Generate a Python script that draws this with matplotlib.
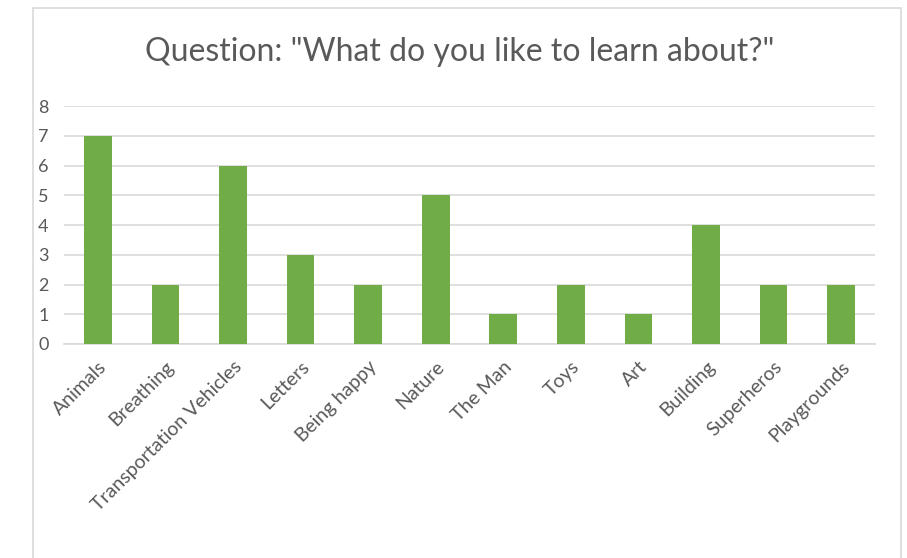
import matplotlib.pyplot as plt
from matplotlib.patches import Rectangle

# Survey answers
topics = ['Animals', 'Breathing', 'Transportation Vehicles', 'Letters', 'Being happy',
          'Nature', 'The Man', 'Toys', 'Art', 'Building', 'Superheros', 'Playgrounds']
counts = [7, 2, 6, 3, 2, 5, 1, 2, 1, 4, 2, 2]
y_ticks = [0, 1, 2, 3, 4, 5, 6, 7, 8]

plt.rcParams['font.family'] = ['Lato', 'DejaVu Sans']

fig = plt.figure(figsize=(9.07, 5.58), dpi=100)
# chart border like an Excel chart box
fig.patches.append(Rectangle((33 / 907, -0.01), 868 / 907, 1 - 8 / 558 + 0.01,
                             transform=fig.transFigure, fill=False,
                             edgecolor='#D9D9D9', linewidth=1.2))

ax = fig.add_axes([64 / 907, 1 - 344 / 558, 811 / 907, 238 / 558])
x = range(len(topics))
ax.bar(x, counts, width=0.41, color='#70AD47', zorder=3)

ax.set_ylim(0, 8)
ax.set_xlim(-0.5, len(topics) - 0.5)
ax.set_yticks(y_ticks)
ax.set_xticks(list(x))
ax.set_xticklabels(topics, rotation=45, ha='right', rotation_mode='anchor')
ax.tick_params(axis='both', length=0, colors='#595959')
ax.tick_params(axis='x', pad=10, labelsize=14)
ax.tick_params(axis='y', pad=11, labelsize=13)
ax.grid(axis='y', color='#D9D9D9', linewidth=1.2, zorder=0)
for s in ['top', 'right', 'left']:
    ax.spines[s].set_visible(False)
ax.spines['bottom'].set_color('#D9D9D9')
ax.spines['bottom'].set_linewidth(1.2)

fig.text(460 / 907, 1 - 52 / 558, 'Question: "What do you like to learn about?"',
         ha='center', va='center', fontsize=23, color='#595959')

fig.savefig('out.png', dpi=100)
